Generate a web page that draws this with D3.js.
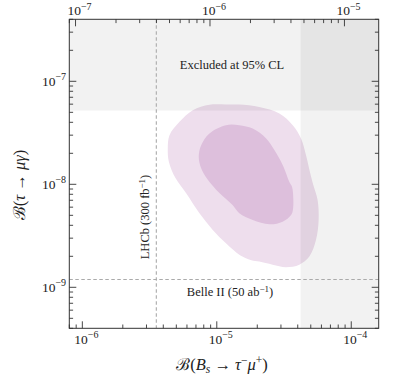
<!DOCTYPE html>
<html><head><meta charset="utf-8">
<script src="https://cdn.jsdelivr.net/npm/d3@7"></script>
<style>
html,body{margin:0;padding:0;background:#fff;}
svg text{font-family:"Liberation Serif","DejaVu Serif",serif;fill:#222;}
</style></head>
<body><svg id="c" width="399" height="378"></svg>
<script>
// ---- data ----
const xDomain = [8e-7, 1.6e-4];          // B(Bs -> tau- mu+)
const yDomain = [4e-10, 4e-7];           // B(tau -> mu gamma)
const topAxisFactor = 8.9;               // top axis = bottom / factor
const excludedTauMuGamma = 5.2e-8;       // 95% CL limit (y)
const excludedBsTauMu = 4.2e-5;          // 95% CL limit (x)
const lhcbProjection = 3.55e-6;          // LHCb 300 fb^-1
const belle2Projection = 1.19e-9;        // Belle II 50 ab^-1
const xTickLabels = [1e-6, 1e-5, 1e-4];
const yTickLabels = [1e-9, 1e-8, 1e-7];
const topTickLabels = [1e-7, 1e-6, 1e-5];
// outer (2 sigma) region: [B(Bs->tau mu), B(tau->mu gamma)]
const outerX = [8.82e-6,1.18e-5,1.47e-5,2.07e-5,2.92e-5,3.67e-5,4.23e-5,4.61e-5,4.93e-5,5.22e-5,5.62e-5,5.72e-5,5.47e-5,4.88e-5,4.11e-5,3.27e-5,2.60e-5,2.07e-5,1.81e-5,1.63e-5,1.47e-5,1.17e-5,9.33e-6,7.43e-6,5.92e-6,4.93e-6,4.40e-6,4.32e-6,4.45e-6,5.28e-6,6.63e-6];
const outerY = [5.92e-8,5.95e-8,5.95e-8,5.64e-8,4.87e-8,3.75e-8,2.79e-8,1.92e-8,1.32e-8,9.84e-9,7.05e-9,4.51e-9,2.89e-9,1.99e-9,1.66e-9,1.57e-9,1.66e-9,1.78e-9,1.83e-9,1.93e-9,2.07e-9,2.68e-9,3.61e-9,5.24e-9,8.18e-9,1.15e-8,1.66e-8,2.23e-8,3.00e-8,4.04e-8,5.24e-8];
// inner (1 sigma) region
const innerX = [1.17e-5,1.47e-5,1.85e-5,2.33e-5,2.68e-5,3.09e-5,3.46e-5,3.63e-5,3.71e-5,3.68e-5,3.57e-5,3.09e-5,2.46e-5,1.85e-5,1.47e-5,1.31e-5,1.05e-5,8.52e-6,7.65e-6,7.34e-6,7.65e-6,8.82e-6];
const innerY = [3.75e-8,3.75e-8,3.48e-8,2.79e-8,2.15e-8,1.54e-8,1.06e-8,9.42e-9,7.05e-9,5.64e-9,5.04e-9,4.34e-9,4.10e-9,4.51e-9,5.24e-9,6.30e-9,8.18e-9,1.12e-8,1.43e-8,1.85e-8,2.40e-8,3.12e-8];

// ---- layout ----
const W = 399, H = 378;
const m = {l:69.3, r:20.3, t:19.3, b:49.7};
const svg = d3.select("#c");
const x = d3.scaleLog().domain(xDomain).range([m.l, W - m.r]);
const xt = d3.scaleLog().domain(xDomain.map(v => v / topAxisFactor)).range([m.l, W - m.r]);
const y = d3.scaleLog().domain(yDomain).range([H - m.b, m.t]);
const x0 = m.l, x1 = W - m.r, y0 = m.t, y1 = H - m.b;

svg.append("defs").append("clipPath").attr("id","clip")
  .append("rect").attr("x",x0).attr("y",y0).attr("width",x1-x0).attr("height",y1-y0);
const g = svg.append("g").attr("clip-path","url(#clip)");

const line = d3.line().x(d => x(d[0])).y(d => y(d[1])).curve(d3.curveCatmullRomClosed.alpha(0.5));
g.append("path").datum(d3.zip(outerX, outerY)).attr("d", line).attr("fill", "#eedeed");
g.append("path").datum(d3.zip(innerX, innerY)).attr("d", line).attr("fill", "#ddbfdc");

// exclusion shading
g.append("rect").attr("x", x0).attr("width", x1 - x0)
  .attr("y", y0).attr("height", y(excludedTauMuGamma) - y0)
  .attr("fill", "#000").attr("fill-opacity", 0.052);
g.append("rect").attr("x", x(excludedBsTauMu)).attr("width", x1 - x(excludedBsTauMu))
  .attr("y", y0).attr("height", y1 - y0)
  .attr("fill", "#000").attr("fill-opacity", 0.052);

// projections
g.append("line").attr("x1", x(lhcbProjection)).attr("x2", x(lhcbProjection))
  .attr("y1", y0).attr("y2", y1)
  .attr("stroke", "#aaa").attr("stroke-width", 1.1).attr("stroke-dasharray", "3.5,2.5");
g.append("line").attr("x1", x0).attr("x2", x1)
  .attr("y1", y(belle2Projection)).attr("y2", y(belle2Projection))
  .attr("stroke", "#aaa").attr("stroke-width", 1.1).attr("stroke-dasharray", "3.5,2.5");

// frame
svg.append("rect").attr("x", x0).attr("y", y0).attr("width", x1 - x0).attr("height", y1 - y0)
  .attr("fill", "none").attr("stroke", "#333").attr("stroke-width", 1);

// ticks
function isMajor(v){ const l = Math.log10(v); return Math.abs(l - Math.round(l)) < 1e-6; }
function ticks(scale, side){
  const tg = svg.append("g").attr("stroke", "#333").attr("stroke-width", 0.9);
  scale.ticks().forEach(v => {
    const p = scale(v);
    const L = isMajor(v) ? 7 : 3.8;
    if (side === "bottom") tg.append("line").attr("x1",p).attr("x2",p).attr("y1",y1).attr("y2",y1-L);
    if (side === "top") tg.append("line").attr("x1",p).attr("x2",p).attr("y1",y0).attr("y2",y0+L);
    if (side === "left") tg.append("line").attr("y1",p).attr("y2",p).attr("x1",x0).attr("x2",x0+L);
    if (side === "right") tg.append("line").attr("y1",p).attr("y2",p).attr("x1",x1).attr("x2",x1-L);
  });
}
ticks(x, "bottom"); ticks(xt, "top"); ticks(y, "left"); ticks(y, "right");

function powLabel(sel, v, fs, rise){
  const e = Math.round(Math.log10(v));
  sel.style("font-size", fs + "px");
  sel.append("tspan").text("10");
  sel.append("tspan").attr("dy", -(rise || fs*0.42)).style("font-size", (fs*0.74) + "px").text("\u2212" + Math.abs(e));
}
xTickLabels.forEach(v => {
  powLabel(svg.append("text").attr("x", x(v) + 4).attr("y", 344).attr("text-anchor","middle"), v, 13.5);
});
topTickLabels.forEach(v => {
  powLabel(svg.append("text").attr("x", xt(v) + 4).attr("y", 15).attr("text-anchor","middle"), v, 13.5, 4.8);
});
yTickLabels.forEach(v => {
  powLabel(svg.append("text").attr("x", 66).attr("y", y(v) + 4.5).attr("text-anchor","end"), v, 13.5);
});

// axis titles
const xt1 = svg.append("text").attr("x", 222).attr("y", 370).attr("text-anchor","middle").style("font-size","16.5px");
xt1.append("tspan").text("\u212C(");
xt1.append("tspan").style("font-style","italic").text("B");
xt1.append("tspan").attr("dy", 3).style("font-size","11.5px").style("font-style","italic").text("s");
xt1.append("tspan").attr("dy", -3).text(" \u2192 ");
xt1.append("tspan").style("font-style","italic").text("\u03C4");
xt1.append("tspan").attr("dy", -6).style("font-size","11.5px").text("\u2212");
xt1.append("tspan").attr("dy", 6).style("font-style","italic").text("\u03BC");
xt1.append("tspan").attr("dy", -6).style("font-size","11.5px").text("+");
xt1.append("tspan").attr("dy", 6).text(")");

const yt1 = svg.append("text").attr("transform","translate(25,185) rotate(-90)").attr("text-anchor","middle").style("font-size","16.5px");
yt1.append("tspan").text("\u212C(");
yt1.append("tspan").style("font-style","italic").text("\u03C4");
yt1.append("tspan").text(" \u2192 ");
yt1.append("tspan").style("font-style","italic").text("\u03BC\u03B3");
yt1.append("tspan").text(")");

// annotations
svg.append("text").attr("x", 232).attr("y", 69).attr("text-anchor","middle")
  .style("font-size","12.5px").text("Excluded at 95% CL");

const lh = svg.append("text").attr("transform", `translate(${x(lhcbProjection) - 7},217) rotate(-90)`)
  .attr("text-anchor","middle").style("font-size","12.5px");
lh.append("tspan").text("LHCb (300 fb");
lh.append("tspan").attr("dy",-4.5).style("font-size","9px").text("\u22121");
lh.append("tspan").attr("dy",4.5).text(")");

const bl = svg.append("text").attr("x", 230).attr("y", y(belle2Projection) + 16.5).attr("text-anchor","middle")
  .style("font-size","12.5px");
bl.append("tspan").text("Belle II (50 ab");
bl.append("tspan").attr("dy",-4.5).style("font-size","9px").text("\u22121");
bl.append("tspan").attr("dy",4.5).text(")");
</script></body></html>
